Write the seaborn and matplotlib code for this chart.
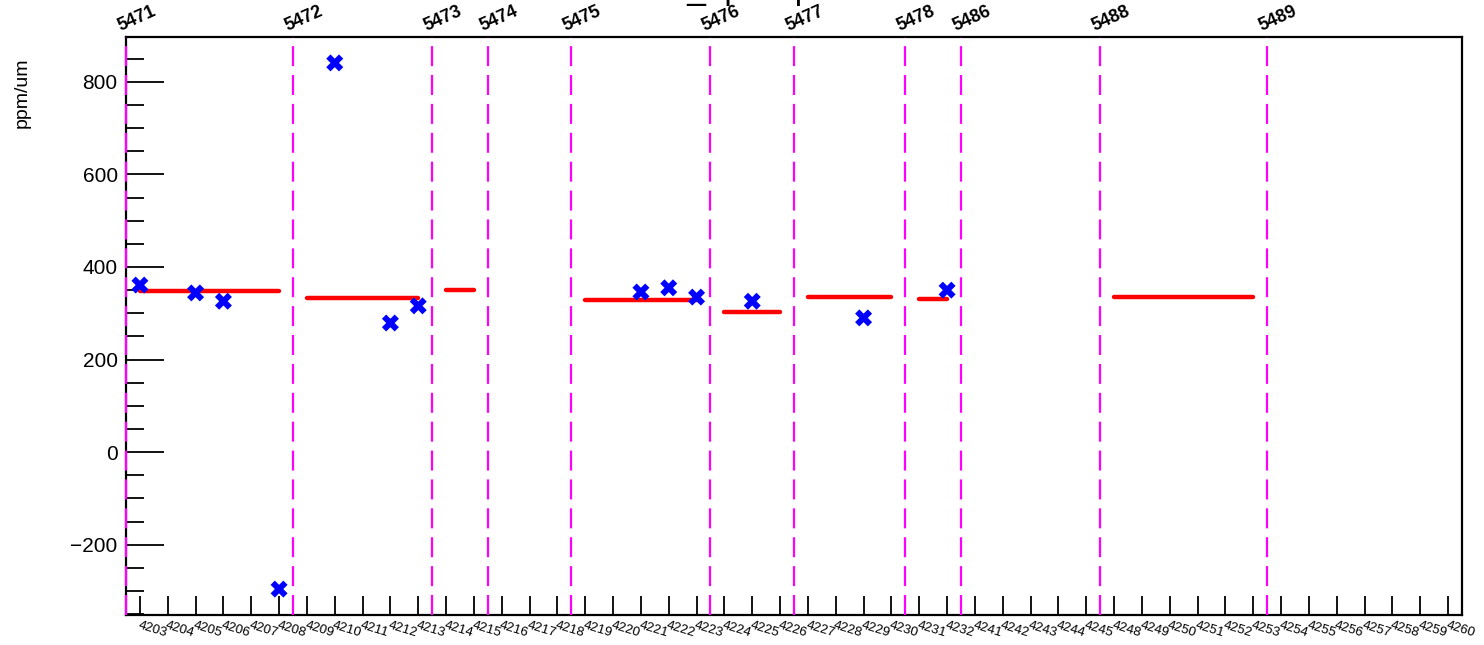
import matplotlib
matplotlib.use("Agg")
import matplotlib.pyplot as plt
from matplotlib.ticker import MultipleLocator
import seaborn as sns
import pandas as pd

# ---------------- data ----------------
categories = [4203, 4204, 4205, 4206, 4207, 4208, 4209, 4210, 4211, 4212,
              4213, 4214, 4215, 4216, 4217, 4218, 4219, 4220, 4221, 4222,
              4223, 4224, 4225, 4226, 4227, 4228, 4229, 4230, 4231, 4232,
              4241, 4242, 4243, 4244, 4245,
              4248, 4249, 4250, 4251, 4252, 4253, 4254, 4255, 4256, 4257,
              4258, 4259, 4260]

point_cats = [4203, 4205, 4206, 4208, 4210, 4212, 4213, 4221, 4222, 4223,
              4225, 4229, 4232]
point_vals = [361, 344, 326, -296, 841, 279, 316, 346, 355, 335,
              326, 290, 350]

run_labels = [5471, 5472, 5473, 5474, 5475, 5476, 5477, 5478, 5486, 5488, 5489]
run_first = [4203, 4209, 4214, 4216, 4219, 4224, 4227, 4231, 4241, 4248, 4254]
run_last = [4208, 4213, 4215, 4218, 4223, 4226, 4230, 4232, 4245, 4253, 4260]
run_means = [348, 333, 350, None, 329, 303, 335, 331, None, 335, None]

y_label = "ppm/um"
title = "us_dp slope"

# ---------------- style ----------------
sns.set_theme(style="ticks")
plt.rcParams['font.family'] = ['Liberation Sans', 'DejaVu Sans']
plt.rcParams['text.color'] = 'black'
plt.rcParams['axes.labelcolor'] = 'black'
plt.rcParams['xtick.color'] = 'black'
plt.rcParams['ytick.color'] = 'black'
plt.rcParams['axes.edgecolor'] = 'black'

W, H = 1484, 645
fig = plt.figure(figsize=(W / 100, H / 100), dpi=100)
ax = fig.add_axes([126 / W, 1 - 615 / H, (1462 - 126) / W, (615 - 37) / H])

pos = {c: i for i, c in enumerate(categories)}

# run boundaries (dashed magenta)
for r, f in zip(run_labels, run_first):
    xb = pos[f] - 0.5
    ax.axvline(xb, color="#ff00ff", lw=1.6, dashes=(9, 4), zorder=3,
               clip_on=False)
    ax.text(xb - 0.15, 1.004, str(r), transform=ax.get_xaxis_transform(),
            rotation=24, ha="left", va="bottom", fontsize=13,
            fontweight="bold", rotation_mode="anchor", clip_on=False)

# run means (red)
for f, l, m in zip(run_first, run_last, run_means):
    if m is None:
        continue
    seg = pd.DataFrame({"x": [pos[f], pos[l]], "y": [m, m]})
    sns.lineplot(data=seg, x="x", y="y", color="#ff0000", lw=3.2, ax=ax,
                 zorder=3)

# points
df = pd.DataFrame({"x": [pos[c] for c in point_cats], "y": point_vals})
sns.scatterplot(data=df, x="x", y="y", marker="X", s=150, color="#0000ff",
                edgecolor="none", ax=ax, zorder=4)

# axes
ax.set_xlim(-0.5, len(categories) - 0.5)
ax.set_ylim(-352, 897)
ax.set_xticks(range(len(categories)))
ax.set_xticklabels([str(c) for c in categories], rotation=-17, ha="left",
                   va="top", rotation_mode="anchor", fontsize=9.5)
ax.yaxis.set_major_locator(MultipleLocator(200))
ax.yaxis.set_minor_locator(MultipleLocator(50))
ax.tick_params(axis="y", which="major", direction="in", length=27, width=1.3,
               labelsize=15, pad=6, color="black")
ax.tick_params(axis="y", which="minor", direction="in", length=13, width=1.3,
               color="black")
ax.tick_params(axis="x", which="major", direction="in", length=14, width=1.3,
               pad=3, color="black")
ax.set_xlabel("")
ax.set_ylabel("")
for s in ax.spines.values():
    s.set_color("black")
    s.set_linewidth(1.6)
ax.grid(False)

fig.text(22 / W, 1 - 57 / H, y_label, rotation=90, ha="center", va="top",
         fontsize=14)
fig.text(742 / W, 1 + 1 / H, title, ha="center", va="baseline", fontsize=24)

fig.savefig("out.png", dpi=100)
